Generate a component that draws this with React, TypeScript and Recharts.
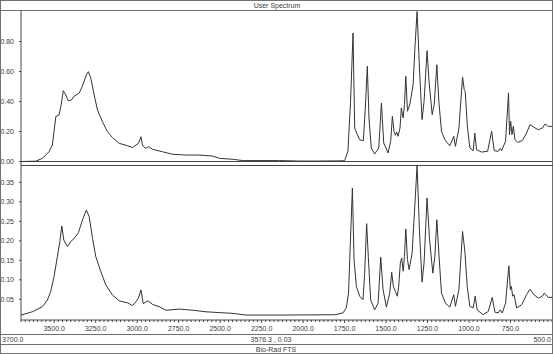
import React from 'react';
import { LineChart, Line, XAxis, YAxis, ReferenceLine } from 'recharts';

// wavenumber (cm-1) / absorbance
const topWave = [
  3700, 3611, 3571, 3531, 3511, 3490, 3471, 3460, 3445, 3430, 3416, 3396, 3380, 3350, 3330, 3306, 3294, 3279, 3259, 3239,
  3209, 3179, 3149, 3108, 3058, 3028, 3007, 2992, 2977, 2968, 2951, 2931, 2907, 2847, 2786, 2706, 2625, 2545, 2504, 2424,
  2363, 2142, 2021, 1901, 1800, 1750, 1730, 1714, 1699, 1689, 1673, 1659, 1637, 1625, 1613, 1603, 1589, 1569, 1544, 1528,
  1514, 1488, 1472, 1462, 1452, 1444, 1436, 1428, 1416, 1408, 1397, 1389, 1381, 1371, 1357, 1337, 1325, 1313, 1297, 1283,
  1271, 1253, 1241, 1222, 1210, 1194, 1182, 1166, 1146, 1116, 1092, 1082, 1061, 1039, 1029, 1023, 1011, 995, 975, 965,
  955, 925, 888, 864, 848, 824, 812, 804, 780, 762, 756, 749, 741, 733, 723, 707, 679, 653, 633, 609,
  582, 558, 542, 522, 500,
];
const topAbs = [
  0, 0.002, 0.021, 0.065, 0.11, 0.3, 0.31, 0.365, 0.472, 0.443, 0.405, 0.41, 0.436, 0.455, 0.503, 0.577, 0.599, 0.555, 0.443, 0.343,
  0.265, 0.199, 0.159, 0.121, 0.105, 0.093, 0.11, 0.121, 0.165, 0.11, 0.088, 0.099, 0.081, 0.065, 0.048, 0.043, 0.043, 0.036, 0.021, 0.015,
  0.006, 0.006, 0.003, 0.003, 0.004, 0.005, 0.068, 0.401, 0.857, 0.223, 0.179, 0.145, 0.139, 0.357, 0.635, 0.29, 0.09, 0.05, 0.09, 0.39,
  0.123, 0.057, 0.135, 0.301, 0.201, 0.175, 0.197, 0.168, 0.223, 0.357, 0.29, 0.379, 0.568, 0.335, 0.379, 0.512, 0.779, 1.0, 0.579, 0.279,
  0.401, 0.739, 0.535, 0.312, 0.379, 0.645, 0.401, 0.201, 0.145, 0.105, 0.168, 0.101, 0.223, 0.563, 0.479, 0.468, 0.245, 0.09, 0.072, 0.19,
  0.079, 0.063, 0.068, 0.201, 0.072, 0.068, 0.086, 0.072, 0.135, 0.457, 0.179, 0.268, 0.179, 0.235, 0.145, 0.128, 0.139, 0.19, 0.245, 0.228,
  0.212, 0.223, 0.25, 0.234, 0.234,
];

const bottomWave = [
  3700, 3632, 3571, 3541, 3521, 3501, 3481, 3466, 3454, 3442, 3420, 3400, 3380, 3354, 3330, 3306, 3289, 3269, 3249, 3219,
  3189, 3149, 3108, 3058, 3028, 3007, 2992, 2977, 2963, 2935, 2907, 2867, 2826, 2746, 2666, 2585, 2424, 2343, 2142, 1810,
  1760, 1740, 1726, 1716, 1703, 1693, 1679, 1659, 1639, 1629, 1617, 1607, 1593, 1569, 1548, 1532, 1518, 1498, 1478, 1466,
  1456, 1444, 1432, 1424, 1414, 1406, 1397, 1389, 1381, 1371, 1361, 1343, 1327, 1313, 1299, 1283, 1271, 1253, 1238, 1218,
  1206, 1194, 1182, 1166, 1142, 1116, 1092, 1082, 1061, 1039, 1025, 1011, 995, 975, 963, 951, 915, 884, 860, 844,
  824, 812, 800, 780, 760, 751, 745, 737, 729, 713, 683, 653, 633, 609, 582, 558, 546, 522, 500,
];
const bottomAbs = [
  0.0097, 0.018, 0.031, 0.048, 0.07, 0.108, 0.159, 0.198, 0.238, 0.202, 0.185, 0.198, 0.206, 0.221, 0.253, 0.279, 0.262, 0.206, 0.159, 0.121,
  0.087, 0.061, 0.046, 0.041, 0.034, 0.044, 0.053, 0.074, 0.039, 0.046, 0.037, 0.031, 0.022, 0.025, 0.022, 0.018, 0.014, 0.0097, 0.0097, 0.0105,
  0.015, 0.028, 0.066, 0.186, 0.335, 0.152, 0.083, 0.058, 0.049, 0.117, 0.244, 0.16, 0.049, 0.023, 0.04, 0.158, 0.075, 0.03, 0.066, 0.119,
  0.083, 0.07, 0.058, 0.083, 0.143, 0.156, 0.122, 0.16, 0.23, 0.152, 0.126, 0.169, 0.288, 0.393, 0.228, 0.094, 0.143, 0.31, 0.203, 0.117,
  0.16, 0.254, 0.169, 0.066, 0.04, 0.03, 0.062, 0.032, 0.075, 0.224, 0.173, 0.083, 0.032, 0.028, 0.058, 0.023, 0.0105, 0.019, 0.055, 0.017,
  0.015, 0.023, 0.015, 0.04, 0.136, 0.075, 0.083, 0.058, 0.062, 0.028, 0.036, 0.062, 0.076, 0.062, 0.053, 0.058, 0.066, 0.055, 0.055,
];

const topYTicks = [0, 0.2, 0.4, 0.6, 0.8];
const bottomYTicks = [0.05, 0.1, 0.15, 0.2, 0.25, 0.3, 0.35];
const xLabelTicks = [3500, 3250, 3000, 2750, 2500, 2250, 2000, 1750, 1500, 1250, 1000, 750];
const xMinorTicks = Array.from({ length: 129 }, (_, i) => 500 + i * 25);

const topData = topWave.map((w, i) => ({ w, a: topAbs[i] }));
const bottomData = bottomWave.map((w, i) => ({ w, a: bottomAbs[i] }));

const FONT = '"Liberation Sans", Arial, sans-serif';
const TEXT = '#3c3c3c';
const FRAME = '#707070';
const AXIS = '#474747';
const TRACE = '#333333';

const XTick = (props: any) => {
  const { x, y, payload } = props;
  const major = xLabelTicks.includes(payload.value);
  return (
    <g>
      <line x1={x} x2={x} y1={y} y2={y + (major ? 3 : 2)} stroke={AXIS} strokeWidth={1} />
      {major && (
        <text x={x} y={y + 11} textAnchor="middle" fontSize={7} fill={TEXT} fontFamily={FONT}>
          {payload.value.toFixed(1)}
        </text>
      )}
    </g>
  );
};

export default function App() {
  return (
    <div
      style={{
        position: 'absolute', left: 0, top: 0, width: 553, height: 354,
        background: '#fff', overflow: 'hidden', fontFamily: FONT,
      }}
    >
      <div style={{ position: 'absolute', left: 0, top: 0 }}>
        <LineChart width={553} height={165} data={topData} margin={{ top: 10, right: 1, bottom: 0, left: 0 }}>
          <XAxis dataKey="w" type="number" domain={[500, 3700]} reversed hide allowDataOverflow />
          <YAxis
            width={21}
            domain={[-0.0233, 1.01]}
            ticks={topYTicks}
            interval={0}
            allowDataOverflow
            tickFormatter={(v: number) => v.toFixed(2)}
            tickSize={2}
            tickMargin={5}
            axisLine={{ stroke: AXIS }}
            tickLine={{ stroke: AXIS }}
            tick={{ fontSize: 7, fill: TEXT, fontFamily: FONT }}
          />
          <ReferenceLine y={0} stroke={AXIS} />
          <Line type="linear" dataKey="a" stroke={TRACE} strokeWidth={1} dot={false} isAnimationActive={false} />
        </LineChart>
      </div>

      <div style={{ position: 'absolute', left: 0, top: 165 }}>
        <LineChart width={553} height={170} data={bottomData} margin={{ top: 0, right: 1, bottom: 0, left: 0 }}>
          <XAxis
            dataKey="w"
            type="number"
            domain={[500, 3700]}
            reversed
            allowDataOverflow
            ticks={xMinorTicks}
            interval={0}
            height={15}
            tickSize={0}
            tickMargin={0}
            tickLine={false}
            axisLine={{ stroke: AXIS }}
            tick={(p: any) => <XTick {...p} />}
          />
          <YAxis
            width={21}
            domain={[-0.003, 0.3944]}
            ticks={bottomYTicks}
            interval={0}
            allowDataOverflow
            tickFormatter={(v: number) => v.toFixed(2)}
            tickSize={2}
            tickMargin={5}
            axisLine={{ stroke: AXIS }}
            tickLine={{ stroke: AXIS }}
            tick={{ fontSize: 7, fill: TEXT, fontFamily: FONT }}
          />
          <Line type="linear" dataKey="a" stroke={TRACE} strokeWidth={1} dot={false} isAnimationActive={false} />
        </LineChart>
      </div>

      <svg
        width={553}
        height={354}
        style={{ position: 'absolute', left: 0, top: 0, pointerEvents: 'none' }}
        shapeRendering="crispEdges"
      >
        <rect x={0.5} y={0.5} width={552} height={353} fill="none" stroke={FRAME} />
        <line x1={0} x2={553} y1={10.5} y2={10.5} stroke={FRAME} />
        <line x1={21} x2={553} y1={165.5} y2={165.5} stroke={AXIS} />
        <line x1={0} x2={553} y1={334.5} y2={334.5} stroke={FRAME} />
        <line x1={0} x2={553} y1={344.5} y2={344.5} stroke={FRAME} />
        <text x={277} y={8} textAnchor="middle" fontSize={7} fill={TEXT} fontFamily={FONT}>User Spectrum</text>
        <text x={2} y={342} fontSize={7} fill={TEXT} fontFamily={FONT}>3700.0</text>
        <text x={271} y={342} textAnchor="middle" fontSize={7} fill={TEXT} fontFamily={FONT}>3576.3 , 0.03</text>
        <text x={551} y={342} textAnchor="end" fontSize={7} fill={TEXT} fontFamily={FONT}>500.0</text>
        <text x={276} y={352} textAnchor="middle" fontSize={7} fill={TEXT} fontFamily={FONT}>Bio-Rad FTS</text>
      </svg>
    </div>
  );
}
